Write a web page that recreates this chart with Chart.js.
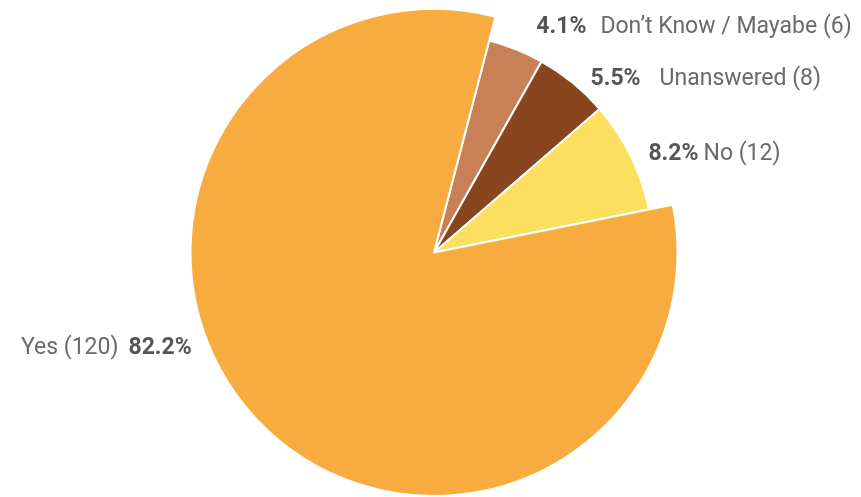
<!DOCTYPE html>
<html>
<head>
<meta charset="utf-8">
<script src="https://cdn.jsdelivr.net/npm/chart.js@4"></script>
<style>
  html, body { margin: 0; padding: 0; background: #fff; }
  #wrap { width: 861px; height: 497px; position: relative; }
</style>
</head>
<body>
<div id="wrap"><canvas id="myChart"></canvas></div>
<script>
// data (clockwise from the top gap)
const categories = ['Don\u2019t Know / Mayabe', 'Unanswered', 'No', 'Yes'];
const counts = [6, 8, 12, 120];
const percentLabels = ['4.1%', '5.5%', '8.2%', '82.2%'];

const sliceColors = ['#C98056', '#88461E', '#FDDF60', '#F8AC40'];
// small slices are drawn a bit shorter than the big one
const radiusScale = [0.9, 0.9, 0.9, 1];
// label tweaks: [dx, dy, gap between percent and name]
const labelNudge = [[15, -9, 14], [9, 7, 19], [5, 4, 5], [-55, -81, 10]];

const FONT = 'Roboto, "Noto Sans", sans-serif';

const shapePlugin = {
  id: 'shape',
  beforeDatasetsDraw(chart) {
    const meta = chart.getDatasetMeta(0);
    meta.data.forEach((arc, i) => {
      if (arc._fullR === undefined) arc._fullR = arc.outerRadius;
      arc.outerRadius = arc._fullR * radiusScale[i];
    });
  },
  afterDatasetsDraw(chart) {
    const ctx = chart.ctx;
    const meta = chart.getDatasetMeta(0);
    ctx.save();
    ctx.textBaseline = 'middle';
    meta.data.forEach((arc, i) => {
      const mid = (arc.startAngle + arc.endAngle) / 2;
      const r = arc.outerRadius + 14;
      const x = arc.x + Math.cos(mid) * r + labelNudge[i][0];
      const y = arc.y + Math.sin(mid) * r + labelNudge[i][1];
      const gap = labelNudge[i][2];
      const name = categories[i] + ' (' + counts[i] + ')';
      const boldFont = 'bold 23px ' + FONT;
      const normFont = '23px ' + FONT;
      ctx.font = boldFont;
      ctx.fillStyle = '#555555';
      ctx.textAlign = x >= arc.x ? 'left' : 'right';
      ctx.fillText(percentLabels[i], x, y);
      const w = ctx.measureText(percentLabels[i]).width;
      ctx.font = normFont;
      ctx.fillStyle = '#6a6a6a';
      if (x >= arc.x) {
        ctx.fillText(name, x + w + gap, y);
      } else {
        ctx.fillText(name, x - w - gap, y);
      }
    });
    ctx.restore();
  }
};

const ctx = document.getElementById('myChart');
const myChart = new Chart(ctx, {
  type: 'pie',
  data: {
    labels: categories,
    datasets: [
      {
        data: counts,
        backgroundColor: sliceColors,
        borderColor: '#ffffff',
        borderWidth: 2,
      },
    ],
  },
  options: {
    responsive: true,
    maintainAspectRatio: false,
    animation: false,
    rotation: 14.6,
    layout: { padding: { top: 8, bottom: 0, left: 7, right: 0 } },
    plugins: {
      legend: { display: false },
      tooltip: { enabled: false },
    },
  },
  plugins: [shapePlugin],
});
</script>
</body>
</html>
